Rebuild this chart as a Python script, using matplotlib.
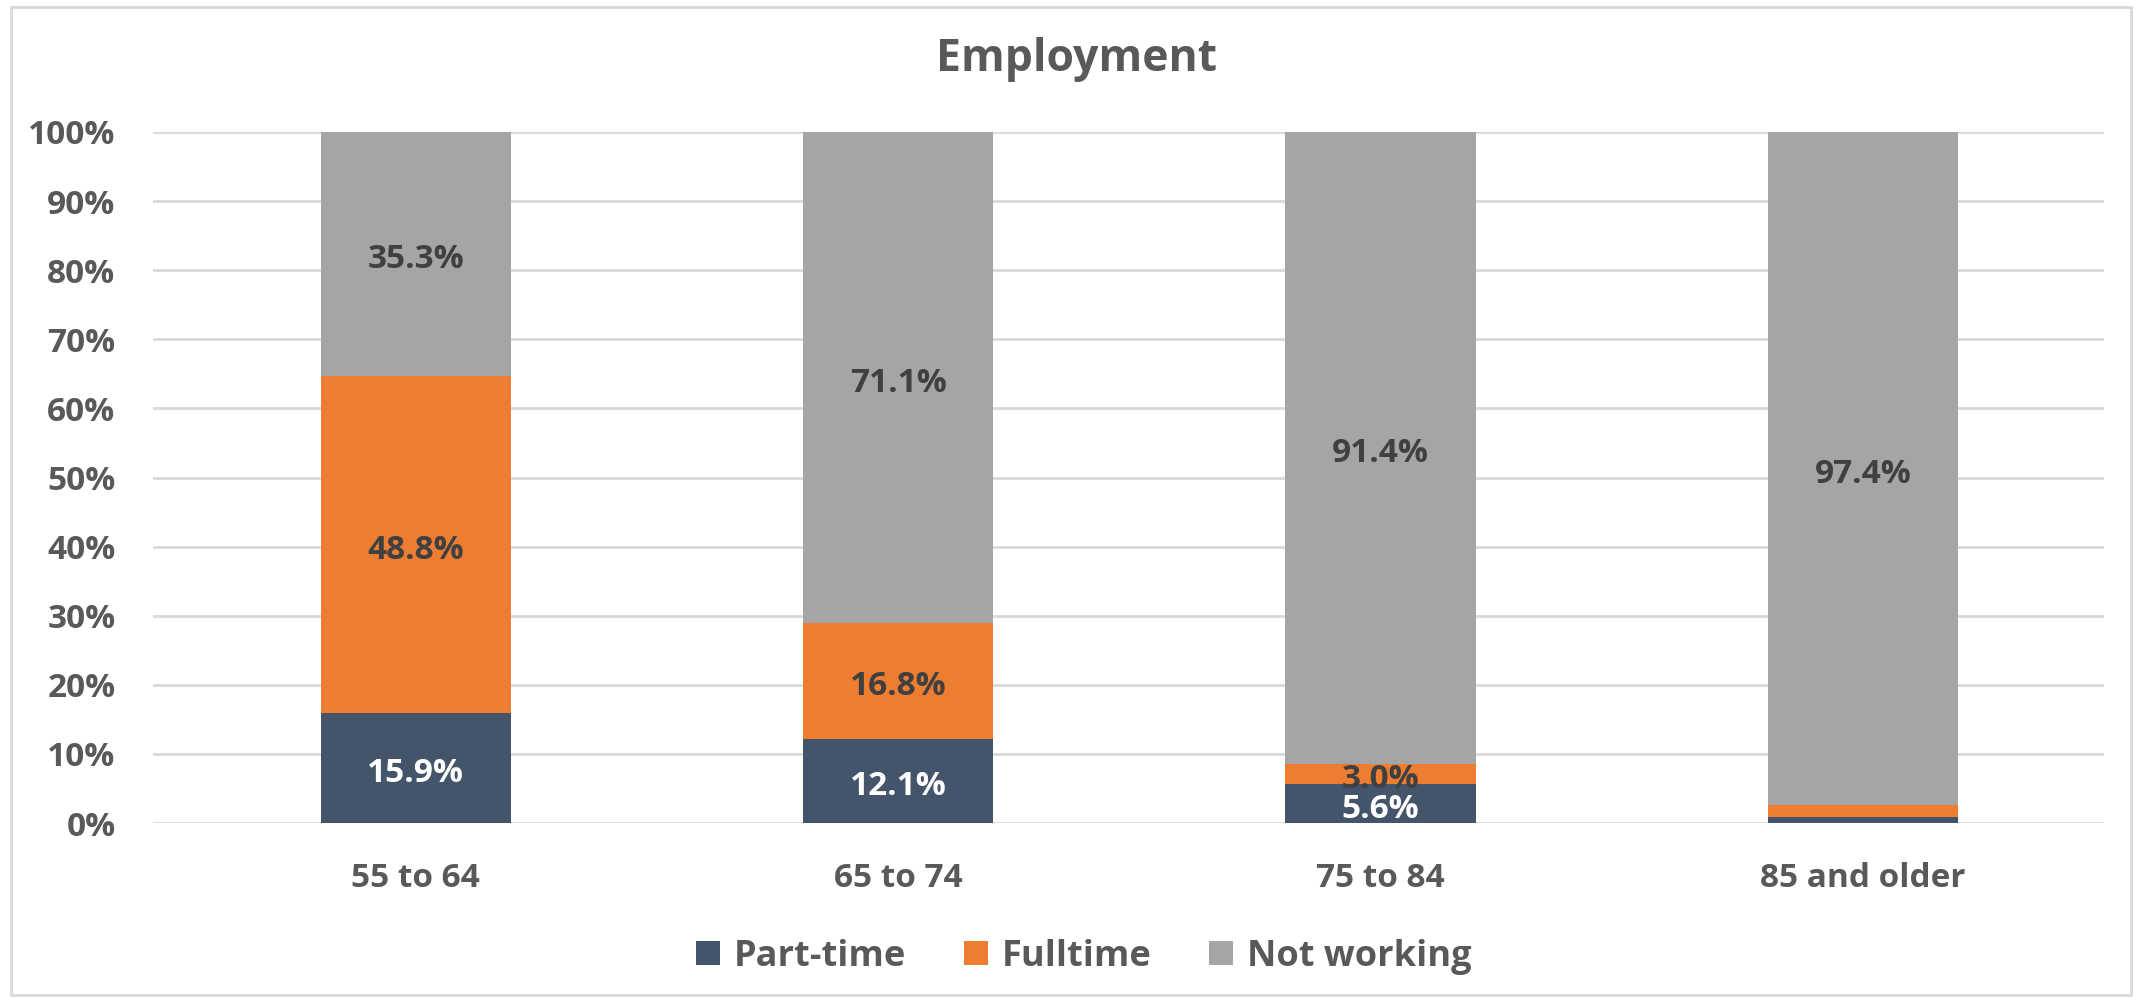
import matplotlib
matplotlib.use("Agg")
import matplotlib.pyplot as plt
from matplotlib.patches import Rectangle
from matplotlib.ticker import PercentFormatter

categories = ["55 to 64", "65 to 74", "75 to 84", "85 and older"]
part_time = [15.9, 12.1, 5.6, 0.8]
fulltime = [48.8, 16.8, 3.0, 1.8]
not_working = [35.3, 71.1, 91.4, 97.4]
series_names = ["Part-time", "Fulltime", "Not working"]
colors = ["#44546A", "#ED7D31", "#A5A5A5"]
text_col = "#595959"

plt.rcParams['font.family'] = ['Open Sans', 'DejaVu Sans']
plt.rcParams['font.weight'] = 'bold'

fig = plt.figure(figsize=(21.38, 9.98), dpi=100)
ax = fig.add_axes([153 / 2138, 175 / 998, (2104 - 153) / 2138, (823 - 132) / 998])

x = list(range(len(categories)))
bottom2 = [a + b for a, b in zip(part_time, fulltime)]
b1 = ax.bar(x, part_time, width=0.395, color=colors[0], label=series_names[0], zorder=3)
b2 = ax.bar(x, fulltime, width=0.395, bottom=part_time, color=colors[1], label=series_names[1], zorder=3)
b3 = ax.bar(x, not_working, width=0.395, bottom=bottom2, color=colors[2], label=series_names[2], zorder=3)


def label(xi, yi, val, col):
    ax.annotate(f"{val:.1f}%", (xi, yi), xytext=(0, -4), textcoords="offset points",
                ha="center", va="center", color=col, fontsize=24,
                fontweight="bold", zorder=4)


# data labels (none shown for the last group)
for i in range(3):
    label(i, part_time[i] / 2, part_time[i], "white")
    label(i, part_time[i] + fulltime[i] / 2, fulltime[i], "#404040")
for i in range(4):
    label(i, bottom2[i] + not_working[i] / 2, not_working[i], "#404040")

ax.set_xlim(-0.545, 3.5)
ax.set_ylim(0, 100)
ax.set_yticks(range(0, 101, 10))
ax.yaxis.set_major_formatter(PercentFormatter(decimals=0))
ax.set_xticks(x)
ax.set_xticklabels(categories)
ax.tick_params(axis="both", length=0, labelsize=24, labelcolor=text_col)
ax.tick_params(axis="y", pad=27)
ax.tick_params(axis="x", pad=28)
ax.grid(axis="y", color="#D9D9D9", linewidth=2, zorder=0)
for s in ax.spines.values():
    s.set_visible(False)

fig.text(1076 / 2138, 1 - 60 / 998, "Employment", ha="center", va="center",
         fontsize=32, fontweight="bold", color=text_col)

fig.legend(handles=[b1, b2, b3], labels=series_names, loc="center",
           bbox_to_anchor=(1084 / 2138, 1 - 957 / 998), ncol=3, frameon=False,
           fontsize=26, labelcolor=text_col, handlelength=0.65, handleheight=0.65,
           handletextpad=0.4, columnspacing=1.6)

fig.patches.append(Rectangle((11 / 2138, 3 / 998), 2120 / 2138, 988 / 998,
                             transform=fig.transFigure, fill=False,
                             edgecolor="#D9D9D9", linewidth=2))

fig.savefig("out.png", dpi=100)
